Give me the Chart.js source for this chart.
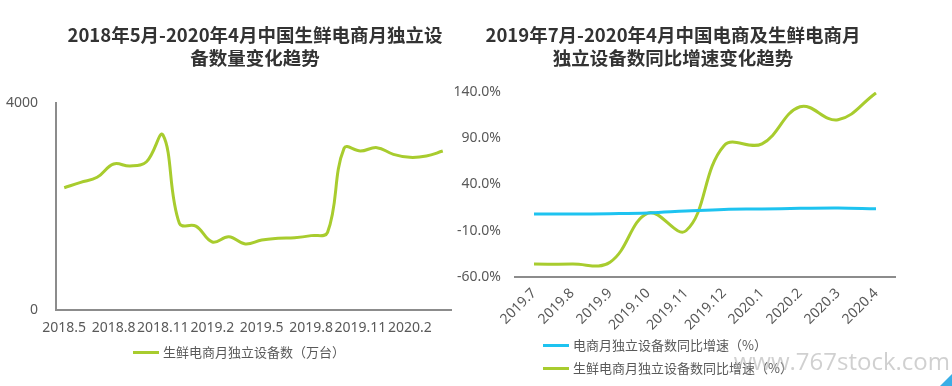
<!DOCTYPE html>
<html>
<head>
<meta charset="utf-8">
<script src="https://cdn.jsdelivr.net/npm/chart.js@4"></script>
<style>
  body { margin: 0; background: #fff; }
  #page { position: relative; width: 952px; height: 386px; overflow: hidden; font-family: "Noto Sans CJK SC", sans-serif; }
  .title { position: absolute; font-weight: bold; font-size: 18.5px; line-height: 23px; color: #333; text-align: center; white-space: nowrap; }
  .legend { position: absolute; font-size: 13px; color: #595959; white-space: nowrap; line-height: 16px; }
  .legend i { display: inline-block; width: 26px; height: 3px; vertical-align: middle; margin-right: 4px; position: relative; top: -1px; }
  canvas { position: absolute; top: 0; }
  #mark { position: absolute; right: 2px; top: 344px; font-family: "Open Sans", sans-serif; font-size: 24px; color: rgba(170,170,170,0.55); white-space: nowrap; }
  #corner { position: absolute; right: 0; bottom: 0; width: 0; height: 0; border-left: 12px solid transparent; border-bottom: 12px solid #3aaee6; }
</style>
</head>
<body>
<div id="page">
  <canvas id="leftChart" width="470" height="386" style="left:0;width:470px;height:386px"></canvas>
  <canvas id="rightChart" width="522" height="386" style="left:430px;width:522px;height:386px"></canvas>
  <div class="title" style="left:55px;width:400px;top:23px">2018年5月-2020年4月中国生鲜电商月独立设<br>备数量变化趋势</div>
  <div class="title" style="left:473px;width:400px;top:23px">2019年7月-2020年4月中国电商及生鲜电商月<br>独立设备数同比增速变化趋势</div>
  <div class="legend" style="left:133px;top:344px"><i style="background:#a8cc2e"></i>生鲜电商月独立设备数（万台）</div>
  <div class="legend" style="left:543px;top:337px"><i style="background:#1ec3f0"></i>电商月独立设备数同比增速（%）</div>
  <div class="legend" style="left:543px;top:360px"><i style="background:#a8cc2e"></i>生鲜电商月独立设备数同比增速（%）</div>
  <div id="mark">www.767stock.com</div>
  <div id="corner"></div>
</div>
<script>
const months = ['2018.5', '2018.6', '2018.7', '2018.8', '2018.9', '2018.10', '2018.11', '2018.12',
  '2019.1', '2019.2', '2019.3', '2019.4', '2019.5', '2019.6', '2019.7', '2019.8', '2019.9', '2019.10',
  '2019.11', '2019.12', '2020.1', '2020.2', '2020.3', '2020.4'];
const deviceCount = [2363, 2467, 2564, 2821, 2782, 2865, 3381, 1670, 1620, 1314, 1416, 1275,
  1352, 1385, 1398, 1437, 1500, 3124, 3072, 3137, 3008, 2950, 2975, 3072];

const growthMonths = ['2019.7', '2019.8', '2019.9', '2019.10', '2019.11', '2019.12', '2020.1', '2020.2', '2020.3', '2020.4'];
const ecomGrowth = [8.1, 8.1, 8.5, 9.3, 11.3, 13.1, 13.5, 14.2, 14.6, 13.8];
const freshGrowth = [-46, -46, -44, 9, -10, 82, 84, 124, 110, 139];

const tickFont = { family: 'Noto Sans', size: 14 };
const tickColor = '#595959';
const green = '#a8cc2e';
const blue = '#1ec3f0';

new Chart(document.getElementById('leftChart'), {
  type: 'line',
  data: {
    labels: months,
    datasets: [{
      label: '生鲜电商月独立设备数（万台）',
      data: deviceCount,
      borderColor: green,
      backgroundColor: green,
      borderWidth: 3,
      pointRadius: 0,
      tension: 0.4,
      fill: false
    }]
  },
  options: {
    responsive: false,
    animation: false,
    layout: { padding: { left: 0, top: 103, right: 19, bottom: 46 } },
    plugins: { legend: { display: false }, tooltip: { enabled: false } },
    scales: {
      x: {
        offset: true,
        grid: { display: false, drawTicks: false },
        border: { display: true, color: '#8c8c8c', width: 2 },
        ticks: {
          font: tickFont, color: tickColor, padding: 10,
          autoSkip: false, maxRotation: 0,
          callback: (v, i) => i % 3 === 0 ? months[i] : ''
        },
        afterFit: s => { s.height = 30; }
      },
      y: {
        min: 0, max: 4000,
        grid: { display: false, drawTicks: false },
        border: { display: true, color: '#8c8c8c', width: 2 },
        ticks: { font: tickFont, color: tickColor, padding: 18, stepSize: 4000, callback: v => String(v) },
        afterFit: s => { s.width = 56; }
      }
    }
  }
});

new Chart(document.getElementById('rightChart'), {
  type: 'line',
  data: {
    labels: growthMonths,
    datasets: [{
      label: '电商月独立设备数同比增速（%）',
      data: ecomGrowth,
      borderColor: blue,
      backgroundColor: blue,
      borderWidth: 3,
      pointRadius: 0,
      tension: 0.4
    }, {
      label: '生鲜电商月独立设备数同比增速（%）',
      data: freshGrowth,
      borderColor: green,
      backgroundColor: green,
      borderWidth: 3,
      pointRadius: 0,
      tension: 0.4
    }]
  },
  options: {
    responsive: false,
    animation: false,
    layout: { padding: { left: 0, top: 92, right: 57, bottom: 49 } },
    plugins: { legend: { display: false }, tooltip: { enabled: false } },
    scales: {
      x: {
        offset: true,
        grid: { display: false, drawTicks: false },
        border: { display: true, color: '#8c8c8c', width: 2 },
        ticks: { font: tickFont, color: tickColor, padding: 8, autoSkip: false, minRotation: 45, maxRotation: 45 },
        afterFit: s => { s.height = 60; }
      },
      y: {
        min: -60, max: 140,
        grid: { display: false, drawTicks: false },
        border: { display: false },
        ticks: {
          font: tickFont, color: tickColor, padding: 14, stepSize: 50,
          callback: v => v.toFixed(1) + '%'
        },
        afterFit: s => { s.width = 85; }
      }
    }
  }
});
</script>
</body>
</html>
